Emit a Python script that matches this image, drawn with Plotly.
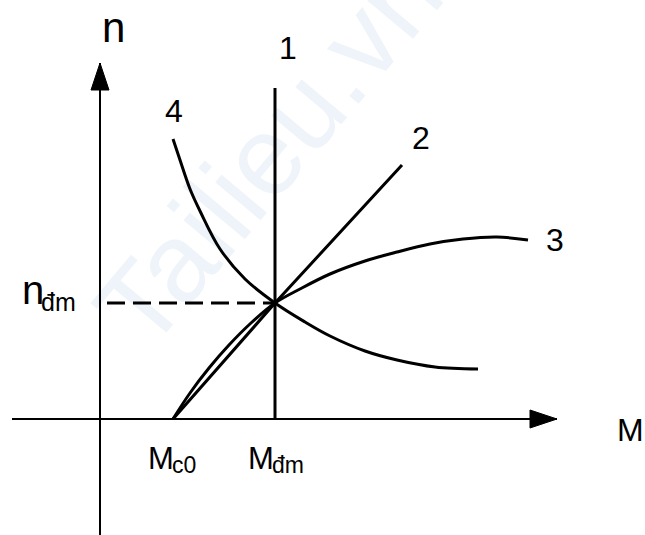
import plotly.graph_objects as go

# ---- data (diagram units) ----
AXIS_M = [-0.88, 4.57]          # horizontal axis extent
AXIS_N = [-1.16, 3.56]          # vertical axis extent
M_C0 = 0.73
M_DM = 1.75
N_DM = 1.16
LINE1_TOP = 3.31
DASH_START = 0.07

LINE2_M = [0.73, 1.75, 3.02]
LINE2_N = [0.00, 1.16, 2.54]

CURVE3_M = [0.73, 0.90, 1.09, 1.29, 1.51, 1.75, 2.00, 2.30, 2.65, 2.97, 3.30, 3.63, 3.97, 4.28]
CURVE3_N = [0.00, 0.26, 0.51, 0.74, 0.96, 1.16, 1.30, 1.45, 1.58, 1.67, 1.75, 1.80, 1.82, 1.79]

CURVE4_M = [0.73, 0.80, 0.90, 1.00, 1.20, 1.45, 1.75, 2.05, 2.30, 2.65, 2.97, 3.35, 3.78]
CURVE4_N = [2.80, 2.59, 2.30, 2.08, 1.70, 1.40, 1.16, 0.97, 0.83, 0.68, 0.59, 0.52, 0.50]

CURVE_LABELS = ["1", "2", "3", "4"]
CURVE_LABEL_M = [1.88, 3.21, 4.55, 0.74]
CURVE_LABEL_N = [3.71, 2.81, 1.79, 3.08]

BLACK = "#000000"
FONT = "Liberation Sans, Arial, sans-serif"

fig = go.Figure()

def line(xs, ys, width=3, dash=None, shape="linear"):
    fig.add_trace(go.Scatter(x=xs, y=ys, mode="lines", hoverinfo="skip",
                             line=dict(color=BLACK, width=width, dash=dash, shape=shape)))

# axes
line(AXIS_M, [0, 0], width=2)
line([0, 0], AXIS_N, width=2)

# arrowheads
AH_LEN = 0.27
AH_HALF = 0.09
tipx = AXIS_M[1]
fig.add_trace(go.Scatter(x=[tipx, tipx - AH_LEN, tipx - AH_LEN, tipx],
                         y=[0, AH_HALF, -AH_HALF, 0], mode="lines", fill="toself",
                         fillcolor=BLACK, line=dict(color=BLACK, width=1), hoverinfo="skip"))
tipy = AXIS_N[1]
fig.add_trace(go.Scatter(x=[0, AH_HALF, -AH_HALF, 0],
                         y=[tipy, tipy - AH_LEN, tipy - AH_LEN, tipy], mode="lines", fill="toself",
                         fillcolor=BLACK, line=dict(color=BLACK, width=1), hoverinfo="skip"))

# dashed n_dm line
line([DASH_START, M_DM], [N_DM, N_DM], width=3, dash="18px,8px")

# curve 1 (vertical)
line([M_DM, M_DM], [0, LINE1_TOP], width=3)
# curve 2
line(LINE2_M, LINE2_N, width=3)
# curve 3
line(CURVE3_M, CURVE3_N, width=3, shape="spline")
# curve 4
line(CURVE4_M, CURVE4_N, width=3, shape="spline")

annotations = []
def txt(x, y, s, size, xanchor="center", yanchor="middle", color=BLACK):
    annotations.append(dict(x=x, y=y, text=s, showarrow=False, xref="x", yref="y",
                            xanchor=xanchor, yanchor=yanchor,
                            font=dict(family=FONT, size=size, color=color)))

# faint watermark, drawn below the traces
fig.add_shape(type="rect", xref="x", yref="y", x0=0.2, x1=3.0, y0=1.4, y1=4.1,
              line=dict(width=0), fillcolor="rgba(0,0,0,0)", layer="below",
              label=dict(text="Tailieu.vn", textangle=-50, textposition="middle center",
                         font=dict(family=FONT, size=112, color="#eef4f9")))

for lab, xm, yn in zip(CURVE_LABELS, CURVE_LABEL_M, CURVE_LABEL_N):
    txt(xm, yn, lab, 32)

txt(0.13, 3.92, "n", 42)
txt(5.15, -0.11, "M", 32, xanchor="left")

# n_dm label
txt(-0.80, 1.29, "n", 40, xanchor="left")
txt(-0.61, 1.17, "đm", 25, xanchor="left")

# M_c0
txt(0.46, -0.39, "M", 31, xanchor="left")
txt(0.70, -0.46, "c0", 23, xanchor="left")
# M_dm
txt(1.46, -0.39, "M", 31, xanchor="left")
txt(1.70, -0.46, "đm", 23, xanchor="left")

fig.update_layout(
    width=645, height=535,
    margin=dict(l=0, r=0, t=0, b=0),
    paper_bgcolor="white", plot_bgcolor="white",
    showlegend=False,
    xaxis=dict(range=[-1.0, 5.45], visible=False, fixedrange=True),
    yaxis=dict(range=[-1.16, 4.19], visible=False, fixedrange=True),
    annotations=annotations,
)
# remove the default page margin so the 645x535 figure fills the window exactly
fig.write_html("out.html",
               config={"displayModeBar": False},
               post_script="document.body.style.margin='0';document.body.style.overflow='hidden';")
